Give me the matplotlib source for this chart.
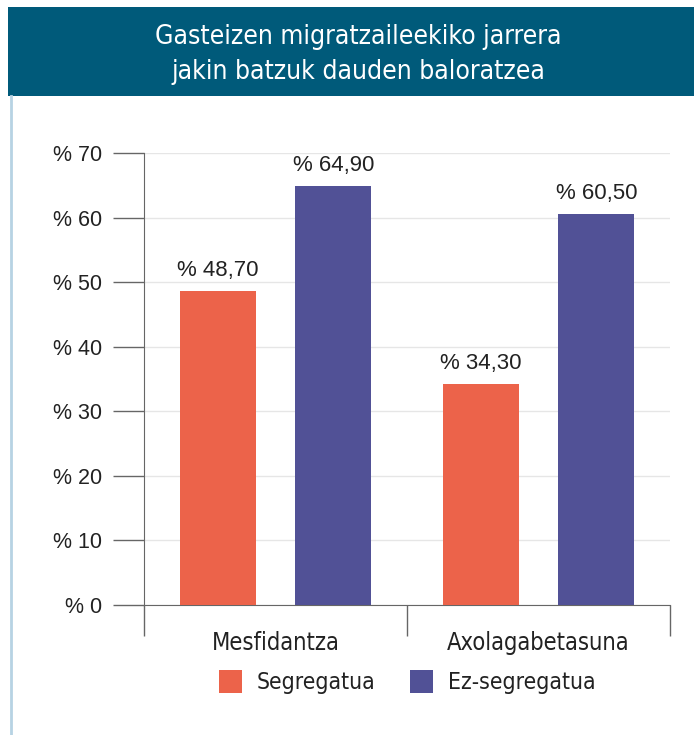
import matplotlib
matplotlib.use("Agg")
import matplotlib.pyplot as plt
import matplotlib.transforms as mtransforms
from matplotlib.patches import Rectangle
from matplotlib.lines import Line2D
import numpy as np

title_lines = ["Gasteizen migratzaileekiko jarrera", "jakin batzuk dauden baloratzea"]
categories = ["Mesfidantza", "Axolagabetasuna"]
series_names = ["Segregatua", "Ez-segregatua"]
segregatua = [48.7, 34.3]
ez_segregatua = [64.9, 60.5]
yticks = [0, 10, 20, 30, 40, 50, 60, 70]
ytick_labels = ["% 0", "% 10", "% 20", "% 30", "% 40", "% 50", "% 60", "% 70"]
colors = ["#EC634A", "#515196"]

W, H = 694, 735
fig = plt.figure(figsize=(W/100, H/100), dpi=100)
fig.patch.set_facecolor("white")

def fx(px): return px / W
def fy(py): return 1 - py / H

# header band
fig.patches.append(Rectangle((fx(8), fy(96)), 1 - fx(8), (96 - 7) / H,
                             transform=fig.transFigure, facecolor="#005A7A", edgecolor="none"))
# left light-blue border
fig.lines.append(Line2D([fx(11), fx(11)], [fy(96), 0], transform=fig.transFigure,
                        color="#B7D3E3", lw=2))
cond = dict(family="DejaVu Sans", fontstretch="condensed")
fig.text(fx(358), fy(44), title_lines[0], ha="center", va="baseline", color="white",
         fontsize=19, fontweight="normal", **cond)
fig.text(fx(358), fy(79), title_lines[1], ha="center", va="baseline", color="white",
         fontsize=19, fontweight="normal", **cond)

ax = fig.add_axes([fx(144), fy(605), fx(670) - fx(144), (605 - 153) / H])
x = np.arange(len(categories))
off = 0.22
bw = 0.289
b1 = ax.bar(x - off, segregatua, bw, color=colors[0], zorder=3)
b2 = ax.bar(x + off, ez_segregatua, bw, color=colors[1], zorder=3)
for bars, vals in ((b1, segregatua), (b2, ez_segregatua)):
    for r, v in zip(bars, vals):
        ax.text(r.get_x() + r.get_width()/2, v + 2.3, "% " + f"{v:.2f}".replace(".", ","),
                ha="center", va="baseline", fontsize=16, family="Liberation Sans", color="#222222")

ax.set_xlim(-0.5, 1.5)
ax.set_ylim(0, 70)
ax.set_yticks(yticks)
ax.set_yticklabels(ytick_labels, family="Liberation Sans", fontsize=15.5, color="#222222")
ax.tick_params(axis="y", length=22, color="#666666", width=1, pad=8)
ax.set_xticks([-0.5, 0.5, 1.5], minor=False)
ax.set_xticklabels([])
ax.tick_params(axis="x", length=22, color="#666666", width=1)
ax.grid(axis="y", color="#E6E6E6", lw=1, zorder=0)
for s in ["top", "right"]:
    ax.spines[s].set_visible(False)
ax.spines["left"].set_color("#666666")
ax.spines["bottom"].set_color("#666666")
ax.spines["left"].set_bounds(0, 70)

# category labels: x in data, y in figure pixels
trans = mtransforms.blended_transform_factory(ax.transData, fig.transFigure)
for xi, name in zip(x, categories):
    ax.text(xi, fy(650), name, transform=trans, ha="center", va="baseline",
            fontsize=17, color="#222222", clip_on=False, **cond)

# legend in pixel coordinates
ax_leg = fig.add_axes([0, 0, 1, 1], facecolor="none")
ax_leg.set_axis_off()
ax_leg.set_xlim(0, W); ax_leg.set_ylim(H, 0)
for name, c, px in zip(series_names, colors, [219, 410]):
    ax_leg.add_patch(Rectangle((px, 670), 23, 23, facecolor=c, edgecolor="none"))
    ax_leg.text(px + 38, 689, name, va="baseline", ha="left", fontsize=16.5, color="#222222", **cond)

fig.savefig("out.png", dpi=100)
